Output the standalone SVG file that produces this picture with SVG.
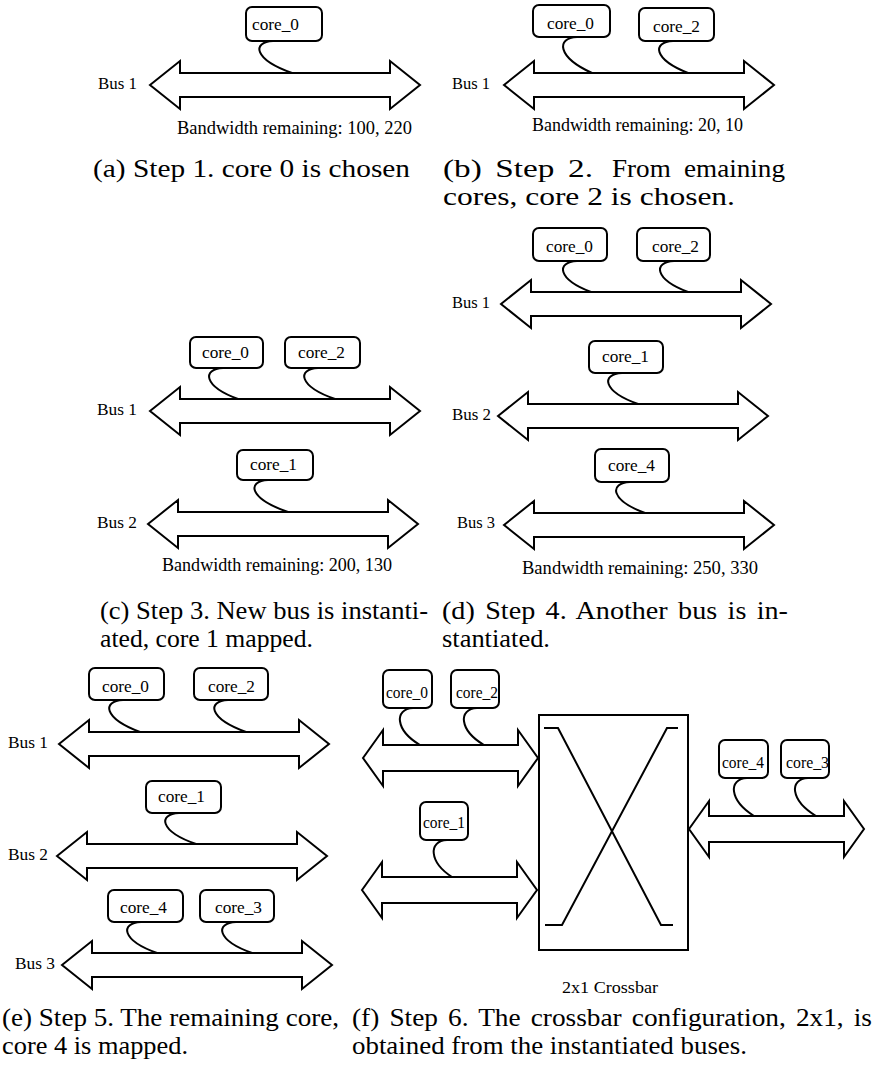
<svg xmlns="http://www.w3.org/2000/svg" xmlns:xlink="http://www.w3.org/1999/xlink" width="882" height="1065" viewBox="0 0 882 1065" font-family="'Liberation Serif', serif">
  <style>
    .box { fill: #fff; stroke: #000; stroke-width: 2; }
    .bus { fill: #fff; stroke: #000; stroke-width: 2; stroke-linejoin: miter; }
    .wire { fill: none; stroke: #000; stroke-width: 2; }
    .xbar { fill: none; stroke: #000; stroke-width: 2; }
    text { font-family: 'Liberation Serif', serif; fill: #000; }
    .core { font-size: 17px; }
    .coref { font-size: 16px; }
    .bus-lbl { font-size: 16px; }
    .bw { font-size: 18px; }
    .cap { font-size: 25px; }
  </style>
  <defs>
    <!-- double-headed bus arrow, origin at the left tip, centred on the shaft -->
    <path id="busA" class="bus" d="M0,0 L30,-24 L30,-12 L240,-12 L240,-24 L270,0 L240,24 L240,12 L30,12 L30,24 Z"/>
    <!-- shorter bus used next to the crossbar -->
    <path id="busF" class="bus" d="M0,0 L20,-28 L20,-13 L155,-13 L155,-28 L175,0 L155,28 L155,13 L20,13 L20,28 Z"/>
  </defs>

  <rect width="882" height="1065" fill="#fff"/>

  <!-- ===== (a) Step 1 ===== -->
  <g id="a-bus1"><use xlink:href="#busA" x="150" y="85"/><text class="bus-lbl" font-family="'Liberation Serif', serif" x="98" y="89" textLength="39" lengthAdjust="spacingAndGlyphs">Bus 1</text></g>
  <g id="a-core0"><rect class="box" x="246" y="7" width="76" height="34" rx="6"/><text class="core" font-family="'Liberation Serif', serif" x="252" y="30" textLength="47" lengthAdjust="spacingAndGlyphs">core_0</text></g>
  <text class="bw" font-family="'Liberation Serif', serif" x="177" y="134" textLength="235" lengthAdjust="spacingAndGlyphs">Bandwidth remaining: 100, 220</text>
  <text class="cap" font-family="'Liberation Serif', serif" x="93" y="177" textLength="317" lengthAdjust="spacingAndGlyphs">(a) Step 1. core 0 is chosen</text>

  <!-- ===== (b) Step 2 ===== -->
  <g id="b-bus1"><use xlink:href="#busA" x="504" y="85"/><text class="bus-lbl" font-family="'Liberation Serif', serif" x="452" y="89" textLength="38" lengthAdjust="spacingAndGlyphs">Bus 1</text></g>
  <g id="b-core0"><rect class="box" x="533" y="5" width="77" height="32" rx="6"/><text class="core" font-family="'Liberation Serif', serif" x="547" y="29" textLength="47" lengthAdjust="spacingAndGlyphs">core_0</text></g>
  <g id="b-core2"><rect class="box" x="639" y="8" width="75" height="33" rx="6"/><text class="core" font-family="'Liberation Serif', serif" x="653" y="32" textLength="47" lengthAdjust="spacingAndGlyphs">core_2</text></g>
  <text class="bw" font-family="'Liberation Serif', serif" x="532" y="131" textLength="211" lengthAdjust="spacingAndGlyphs">Bandwidth remaining: 20, 10</text>
  <text class="cap" font-family="'Liberation Serif', serif" x="443" y="177" textLength="150" lengthAdjust="spacingAndGlyphs" word-spacing="4">(b) Step 2.</text>
  <text class="cap" font-family="'Liberation Serif', serif" x="785" y="177" text-anchor="end" textLength="173" lengthAdjust="spacingAndGlyphs" word-spacing="6">From emaining</text>
  <text class="cap" font-family="'Liberation Serif', serif" x="443" y="205" textLength="292" lengthAdjust="spacingAndGlyphs">cores, core 2 is chosen.</text>

  <!-- ===== (c) Step 3 ===== -->
  <g id="c-bus1"><use xlink:href="#busA" x="150" y="411"/><text class="bus-lbl" font-family="'Liberation Serif', serif" x="97" y="415" textLength="40" lengthAdjust="spacingAndGlyphs">Bus 1</text></g>
  <g id="c-bus2"><use xlink:href="#busA" x="148" y="524"/><text class="bus-lbl" font-family="'Liberation Serif', serif" x="97" y="528" textLength="40" lengthAdjust="spacingAndGlyphs">Bus 2</text></g>
  <g id="c-core0"><rect class="box" x="190" y="337" width="73" height="31" rx="6"/><text class="core" font-family="'Liberation Serif', serif" x="202" y="358" textLength="47" lengthAdjust="spacingAndGlyphs">core_0</text></g>
  <g id="c-core2"><rect class="box" x="285" y="337" width="75" height="31" rx="6"/><text class="core" font-family="'Liberation Serif', serif" x="298" y="358" textLength="47" lengthAdjust="spacingAndGlyphs">core_2</text></g>
  <g id="c-core1"><rect class="box" x="237" y="450" width="76" height="30" rx="6"/><text class="core" font-family="'Liberation Serif', serif" x="250" y="470" textLength="47" lengthAdjust="spacingAndGlyphs">core_1</text></g>
  <text class="bw" font-family="'Liberation Serif', serif" x="162" y="571" textLength="230" lengthAdjust="spacingAndGlyphs">Bandwidth remaining: 200, 130</text>
  <text class="cap" font-family="'Liberation Serif', serif" x="100" y="619" textLength="328" lengthAdjust="spacingAndGlyphs">(c) Step 3. New bus is instanti-</text>
  <text class="cap" font-family="'Liberation Serif', serif" x="100" y="647" textLength="213" lengthAdjust="spacingAndGlyphs">ated, core 1 mapped.</text>

  <!-- ===== (d) Step 4 ===== -->
  <g id="d-bus1"><use xlink:href="#busA" x="501" y="304"/><text class="bus-lbl" font-family="'Liberation Serif', serif" x="452" y="308" textLength="38" lengthAdjust="spacingAndGlyphs">Bus 1</text></g>
  <g id="d-bus2"><use xlink:href="#busA" x="498" y="416"/><text class="bus-lbl" font-family="'Liberation Serif', serif" x="452" y="420" textLength="39" lengthAdjust="spacingAndGlyphs">Bus 2</text></g>
  <g id="d-bus3"><use xlink:href="#busA" x="504" y="525"/><text class="bus-lbl" font-family="'Liberation Serif', serif" x="457" y="528" textLength="38" lengthAdjust="spacingAndGlyphs">Bus 3</text></g>
  <g id="d-core0"><rect class="box" x="533" y="228" width="74" height="33" rx="6"/><text class="core" font-family="'Liberation Serif', serif" x="546" y="252" textLength="47" lengthAdjust="spacingAndGlyphs">core_0</text></g>
  <g id="d-core2"><rect class="box" x="637" y="228" width="73" height="33" rx="6"/><text class="core" font-family="'Liberation Serif', serif" x="652" y="252" textLength="47" lengthAdjust="spacingAndGlyphs">core_2</text></g>
  <g id="d-core1"><rect class="box" x="589" y="341" width="74" height="32" rx="6"/><text class="core" font-family="'Liberation Serif', serif" x="602" y="362" textLength="47" lengthAdjust="spacingAndGlyphs">core_1</text></g>
  <g id="d-core4"><rect class="box" x="595" y="449" width="74" height="33" rx="6"/><text class="core" font-family="'Liberation Serif', serif" x="608" y="471" textLength="47" lengthAdjust="spacingAndGlyphs">core_4</text></g>
  <text class="bw" font-family="'Liberation Serif', serif" x="522" y="574" textLength="236" lengthAdjust="spacingAndGlyphs">Bandwidth remaining: 250, 330</text>
  <text class="cap" font-family="'Liberation Serif', serif" x="442" y="619" textLength="346" lengthAdjust="spacingAndGlyphs" word-spacing="3">(d) Step 4.  Another bus is in-</text>
  <text class="cap" font-family="'Liberation Serif', serif" x="442" y="647" textLength="108" lengthAdjust="spacingAndGlyphs">stantiated.</text>

  <!-- ===== (e) Step 5 ===== -->
  <g id="e-bus1"><use xlink:href="#busA" x="59" y="744"/><text class="bus-lbl" font-family="'Liberation Serif', serif" x="8" y="748" textLength="40" lengthAdjust="spacingAndGlyphs">Bus 1</text></g>
  <g id="e-bus2"><use xlink:href="#busA" x="57" y="856"/><text class="bus-lbl" font-family="'Liberation Serif', serif" x="8" y="860" textLength="40" lengthAdjust="spacingAndGlyphs">Bus 2</text></g>
  <g id="e-bus3"><use xlink:href="#busA" x="62" y="965"/><text class="bus-lbl" font-family="'Liberation Serif', serif" x="15" y="969" textLength="40" lengthAdjust="spacingAndGlyphs">Bus 3</text></g>
  <g id="e-core0"><rect class="box" x="89" y="668" width="75" height="32" rx="6"/><text class="core" font-family="'Liberation Serif', serif" x="102" y="692" textLength="47" lengthAdjust="spacingAndGlyphs">core_0</text></g>
  <g id="e-core2"><rect class="box" x="194" y="668" width="74" height="32" rx="6"/><text class="core" font-family="'Liberation Serif', serif" x="208" y="692" textLength="47" lengthAdjust="spacingAndGlyphs">core_2</text></g>
  <g id="e-core1"><rect class="box" x="146" y="781" width="75" height="32" rx="6"/><text class="core" font-family="'Liberation Serif', serif" x="158" y="802" textLength="47" lengthAdjust="spacingAndGlyphs">core_1</text></g>
  <g id="e-core4"><rect class="box" x="108" y="890" width="75" height="32" rx="6"/><text class="core" font-family="'Liberation Serif', serif" x="120" y="913" textLength="47" lengthAdjust="spacingAndGlyphs">core_4</text></g>
  <g id="e-core3"><rect class="box" x="200" y="890" width="74" height="32" rx="6"/><text class="core" font-family="'Liberation Serif', serif" x="215" y="913" textLength="47" lengthAdjust="spacingAndGlyphs">core_3</text></g>
  <text class="cap" font-family="'Liberation Serif', serif" x="2" y="1026" textLength="337" lengthAdjust="spacingAndGlyphs">(e) Step 5. The remaining core,</text>
  <text class="cap" font-family="'Liberation Serif', serif" x="2" y="1054" textLength="186" lengthAdjust="spacingAndGlyphs">core 4 is mapped.</text>

  <!-- ===== (f) Step 6: crossbar ===== -->
  <g id="f-bus1"><use xlink:href="#busF" x="363" y="758"/></g>
  <g id="f-bus2"><use xlink:href="#busF" x="362" y="890"/></g>
  <g id="f-bus3"><use xlink:href="#busF" x="689" y="829"/></g>
  <g id="f-core0"><rect class="box" x="383" y="670" width="49" height="38" rx="6"/><text class="coref" font-family="'Liberation Serif', serif" x="386" y="698" textLength="42" lengthAdjust="spacingAndGlyphs">core_0</text></g>
  <g id="f-core2"><rect class="box" x="451" y="670" width="48" height="38" rx="6"/><text class="coref" font-family="'Liberation Serif', serif" x="456" y="698" textLength="42" lengthAdjust="spacingAndGlyphs">core_2</text></g>
  <g id="f-core1"><rect class="box" x="420" y="802" width="48" height="38" rx="6"/><text class="coref" font-family="'Liberation Serif', serif" x="423" y="828" textLength="42" lengthAdjust="spacingAndGlyphs">core_1</text></g>
  <g id="f-core4"><rect class="box" x="719" y="740" width="49" height="38" rx="6"/><text class="coref" font-family="'Liberation Serif', serif" x="722" y="768" textLength="42" lengthAdjust="spacingAndGlyphs">core_4</text></g>
  <g id="f-core3"><rect class="box" x="781" y="740" width="48" height="38" rx="6"/><text class="coref" font-family="'Liberation Serif', serif" x="786" y="768" textLength="43" lengthAdjust="spacingAndGlyphs">core_3</text></g>
  <g id="f-crossbar">
    <rect class="xbar" x="539" y="715" width="149" height="235"/>
    <polyline class="xbar" points="544,728 558,728 661,925 673,925"/>
    <polyline class="xbar" points="678,728 667,728 562,925 545,925"/>
    <text class="bus-lbl" font-family="'Liberation Serif', serif" x="562" y="993" font-size="17" textLength="96" lengthAdjust="spacingAndGlyphs">2x1 Crossbar</text>
  </g>
  <text class="cap" font-family="'Liberation Serif', serif" x="352" y="1026" textLength="520" lengthAdjust="spacingAndGlyphs" word-spacing="3">(f) Step 6.  The crossbar configuration, 2x1, is</text>
  <text class="cap" font-family="'Liberation Serif', serif" x="352" y="1054" textLength="395" lengthAdjust="spacingAndGlyphs">obtained from the instantiated buses.</text>

  <!-- core-to-bus wires -->
  <g id="connectors">
    <!-- (a) -->
    <path class="wire" d="M273,41 C252,42 253,59 292,73"/>
    <!-- (b) -->
    <path class="wire" d="M577,37 C556,38 557,57 592,73"/>
    <path class="wire" d="M673,41 C652,42 653,59 688,73"/>
    <!-- (c) -->
    <path class="wire" d="M223,368 C202,369 203,386 238,399"/>
    <path class="wire" d="M318,368 C297,369 298,386 335,399"/>
    <path class="wire" d="M268,480 C247,481 248,498 288,512"/>
    <!-- (d) -->
    <path class="wire" d="M577,261 C556,262 557,279 591,292"/>
    <path class="wire" d="M674,261 C653,262 654,279 688,292"/>
    <path class="wire" d="M622,373 C601,374 602,391 638,404"/>
    <path class="wire" d="M630,482 C609,483 610,500 645,513"/>
    <!-- (e) -->
    <path class="wire" d="M123,700 C102,701 103,718 140,732"/>
    <path class="wire" d="M228,700 C207,701 208,718 246,732"/>
    <path class="wire" d="M179,813 C158,814 159,831 196,844"/>
    <path class="wire" d="M141,922 C120,923 121,940 157,953"/>
    <path class="wire" d="M236,922 C215,923 216,940 252,953"/>
    <!-- (f) -->
    <path class="wire" d="M413,708 C394,709 395,730 420,745"/>
    <path class="wire" d="M477,708 C458,709 459,730 484,745"/>
    <path class="wire" d="M447,840 C428,841 429,862 452,877"/>
    <path class="wire" d="M747,778 C728,779 729,800 754,816"/>
    <path class="wire" d="M808,778 C789,779 790,800 816,816"/>
  </g>
</svg>
